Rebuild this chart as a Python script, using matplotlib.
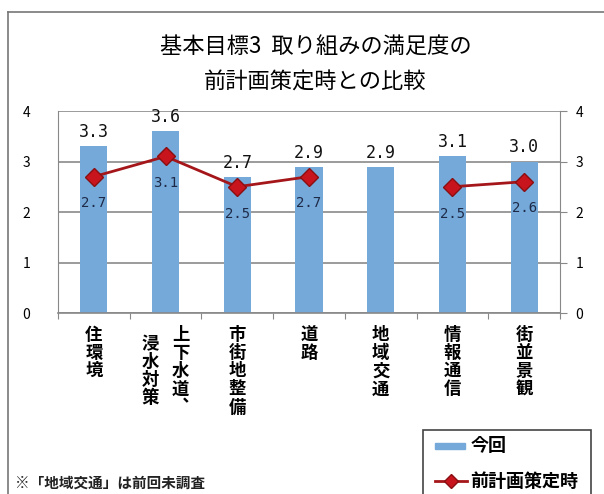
import matplotlib.pyplot as plt
import matplotlib.patches as mpatches
from matplotlib.lines import Line2D

plt.rcParams['font.family'] = ['Noto Sans CJK JP', 'DejaVu Sans']

categories = ['住環境', '上下水道︑\n浸水対策', '市街地整備', '道路', '地域交通', '情報通信', '街並景観']
current = [3.3, 3.6, 2.7, 2.9, 2.9, 3.1, 3.0]
previous = [2.7, 3.1, 2.5, 2.7, None, 2.5, 2.6]
yticks = [0, 1, 2, 3, 4]
legend_labels = ['今回', '前計画策定時']

bar_color = '#74a9d9'
line_color = '#a5161a'
marker_color = '#c8141c'
W, H = 604, 494


def fx(px):
    return px / W


def fy(py):
    return 1 - py / H


fig = plt.figure(figsize=(6.04, 4.94), dpi=100)
ax = fig.add_axes([fx(58), fy(313), fx(560) - fx(58), fy(111) - fy(313)])

x = list(range(len(categories)))
ax.bar(x, current, width=0.38, color=bar_color, zorder=2)

# previous plan line, broken where not surveyed
seg_x, seg_y = [], []
for xi, v in list(zip(x, previous)) + [(None, None)]:
    if v is None:
        if seg_x:
            ax.plot(seg_x, seg_y, color=line_color, lw=2, marker='D', ms=9,
                    mfc=marker_color, mec='#8a0f12', zorder=3)
        seg_x, seg_y = [], []
    else:
        seg_x.append(xi)
        seg_y.append(v)

for xi, v in zip(x, current):
    ax.text(xi, v + 0.1, f'{v:.1f}', ha='center', va='bottom', fontsize=12,
            family='DejaVu Sans Mono', color='#111111')
for xi, v in zip(x, previous):
    if v is not None:
        ax.text(xi, v - 0.53, f'{v:.1f}', ha='center', va='center', fontsize=10,
                family='DejaVu Sans Mono', color='#1e2a48', zorder=4)

ax.set_xlim(-0.5, len(categories) - 0.5)
ax.set_ylim(0, 4)
ax.set_yticks(yticks)
ax.yaxis.grid(True, color='#8a8a8a', lw=1.2, zorder=0)
ax.set_axisbelow(True)
ax.tick_params(axis='y', length=0, pad=20, labelsize=10)
ax.set_xticks([i - 0.5 for i in range(len(categories) + 1)])
ax.set_xticklabels([])
ax.tick_params(axis='x', length=4, color='#888888')
for s in ['top', 'right']:
    ax.spines[s].set_visible(False)
ax.spines['left'].set_color('#888888')
ax.spines['bottom'].set_color('#888888')
ax.spines['bottom'].set_linewidth(1.2)

ax2 = ax.twinx()
ax2.set_ylim(0, 4)
ax2.set_yticks(yticks)
ax2.tick_params(axis='y', length=5, color='#888888', labelsize=10, pad=6)
for s in ['top', 'left', 'bottom']:
    ax2.spines[s].set_visible(False)
ax2.spines['right'].set_color('#888888')

# vertical category labels, one character at a time (first column on the right)
pitch = 13.0  # points between characters
for xi, lab in zip(x, categories):
    cols = lab.split('\n')
    n = len(cols)
    maxlen = max(len(c) for c in cols)
    for j, col in enumerate(cols):
        off = (n - 1) * 0.21 - j * 0.42
        start = 16 + (maxlen - len(col)) * pitch / 2
        for k, ch in enumerate(col):
            ax.annotate(ch, xy=(xi + off, 0), xycoords=('data', 'axes fraction'),
                        xytext=(0, -start - k * pitch), textcoords='offset points',
                        ha='center', va='center', fontsize=12.5, fontweight='bold',
                        annotation_clip=False)

fig.text(fx(316), fy(47), '基本目標3  取り組みの満足度の', ha='center', va='center', fontsize=16)
fig.text(fx(315), fy(82), '前計画策定時との比較', ha='center', va='center', fontsize=16)
fig.text(fx(15), fy(483), '※「地域交通」は前回未調査', ha='left', va='center',
         fontsize=10.5, fontweight='bold', color='#222222')

# outer frame
fig.add_artist(Line2D([fx(8), 1.0], [fy(12), fy(12)], color='#777777', lw=1.2))
fig.add_artist(Line2D([fx(8), fx(8)], [0.0, fy(12)], color='#777777', lw=1.2))

# legend drawn by hand
fig.add_artist(mpatches.Rectangle((fx(423), fy(515)), fx(591) - fx(423), fy(430) - fy(515),
                                  transform=fig.transFigure, fill=False,
                                  edgecolor='#444444', lw=1.2))
fig.add_artist(mpatches.Rectangle((fx(435), fy(449)), fx(465) - fx(435), fy(443) - fy(449),
                                  transform=fig.transFigure, color=bar_color))
fig.text(fx(471), fy(445), legend_labels[0], ha='left', va='center',
         fontsize=13, fontweight='bold')
fig.add_artist(Line2D([fx(435), fx(467)], [fy(481), fy(481)], color=line_color, lw=2))
fig.add_artist(Line2D([fx(451)], [fy(481)], marker='D', ms=7, mfc=marker_color,
                      mec='#8a0f12', lw=0))
fig.text(fx(470), fy(481), legend_labels[1], ha='left', va='center',
         fontsize=13, fontweight='bold')

fig.savefig('out.png', dpi=100)
